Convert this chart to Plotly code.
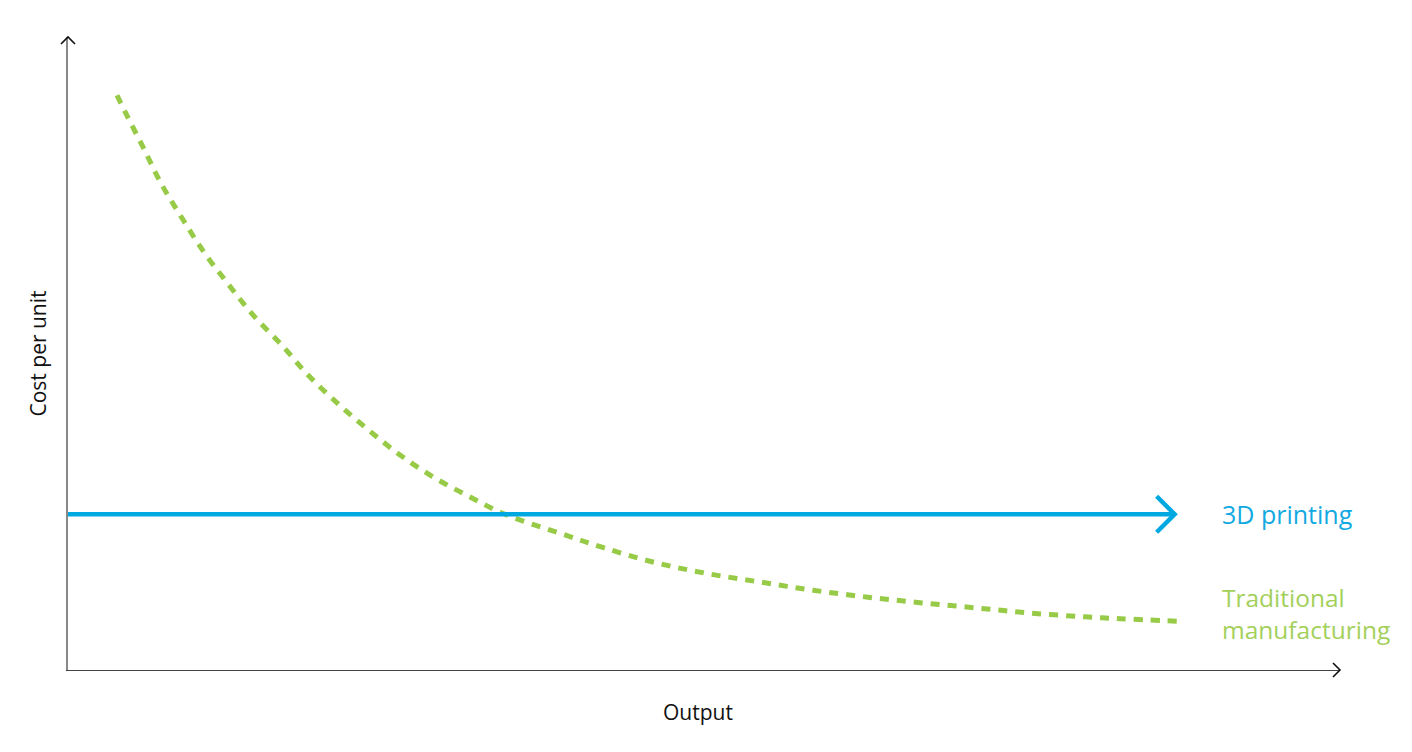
import plotly.graph_objects as go

# Data (Output and Cost on 0-100 scales)
output_trad = [3.85, 4.48, 5.90, 7.31, 8.96, 10.69, 12.58, 14.54, 16.82, 18.87, 21.15,
               23.51, 26.02, 28.62, 31.45, 34.36, 38.68, 41.98, 45.91, 50.08, 54.40,
               58.57, 62.89, 67.14, 71.46, 75.63, 79.95, 82.70, 87.42]
cost_trad = [90.8, 88.2, 82.6, 76.9, 71.4, 66.0, 61.0, 56.1, 51.3, 46.6, 42.2,
             38.1, 34.1, 30.6, 27.5, 24.6, 21.6, 19.4, 17.1, 15.3, 13.9,
             12.6, 11.5, 10.6, 9.8, 9.0, 8.4, 8.1, 7.7]
output_3d = [0.0, 87.0]
cost_3d = [24.6, 24.6]

labels = ["3D printing", "Traditional<br>manufacturing"]
axis_titles = ["Output", "Cost per unit"]

BLUE = "#00a8e1"
GREEN = "#97cb47"
BLUE_TXT = "#12a9e2"
GREEN_TXT = "#a3d05a"
FONT = "Open Sans"

fig = go.Figure()
fig.add_trace(go.Scatter(x=output_trad, y=cost_trad, mode="lines",
                         line=dict(color=GREEN, width=5, dash="9px,8px", shape="spline"),
                         hoverinfo="skip", showlegend=False))
fig.add_trace(go.Scatter(x=output_3d, y=cost_3d, mode="lines",
                         line=dict(color=BLUE, width=4.5),
                         hoverinfo="skip", showlegend=False))

# Arrowhead on 3D printing line
fig.add_shape(type="path", xref="x", yref="y", xsizemode="pixel", ysizemode="pixel",
              xanchor=output_3d[-1], yanchor=cost_3d[-1],
              path="M-18,18 L0,0 L-18,-18", line=dict(color=BLUE, width=4.5))
# Axis arrowheads
fig.add_shape(type="path", xref="paper", yref="paper", xsizemode="pixel", ysizemode="pixel",
              xanchor=0, yanchor=1, path="M-7,-7 L0,0 L7,-7", line=dict(color="#111", width=1.6))
fig.add_shape(type="path", xref="paper", yref="paper", xsizemode="pixel", ysizemode="pixel",
              xanchor=1, yanchor=0, path="M-7,7 L0,0 L-7,-7", line=dict(color="#111", width=1.6))

fig.add_annotation(x=90.57, y=cost_3d[0], xref="x", yref="y", text=labels[0],
                   showarrow=False, xanchor="left", yanchor="middle",
                   font=dict(family=FONT, size=25, color=BLUE_TXT))
fig.add_annotation(x=90.57, y=8.85, xref="x", yref="y", text=labels[1],
                   showarrow=False, xanchor="left", yanchor="middle", align="left",
                   font=dict(family=FONT, size=24.5, color=GREEN_TXT))
fig.add_annotation(x=0.5, y=0, xref="paper", yref="paper", yshift=-42, xshift=-6,
                   text=axis_titles[0], showarrow=False, xanchor="center", yanchor="middle",
                   font=dict(family=FONT, size=21, color="#111"))
fig.add_annotation(x=0, y=0.5, xref="paper", yref="paper", xshift=-31, text=axis_titles[1],
                   showarrow=False, textangle=-90, xanchor="center", yanchor="middle",
                   font=dict(family=FONT, size=21, color="#111"))

fig.update_layout(
    width=1412, height=752,
    margin=dict(l=60, r=80, t=29, b=90),
    paper_bgcolor="white", plot_bgcolor="white",
    hovermode=False,
    xaxis=dict(range=[0, 100], showgrid=False, zeroline=False, showticklabels=False,
               ticks="", showline=True, linecolor="#444", linewidth=1.3, fixedrange=True),
    yaxis=dict(range=[0, 100], showgrid=False, zeroline=False, showticklabels=False,
               ticks="", showline=True, linecolor="#888", linewidth=2, fixedrange=True),
)
fig.write_html("out.html", config={"displayModeBar": False})
